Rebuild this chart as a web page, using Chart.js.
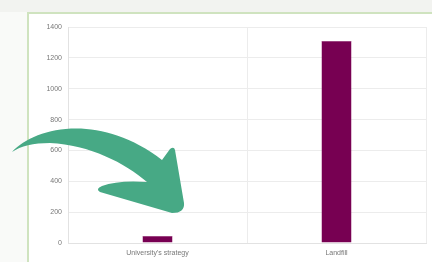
<!DOCTYPE html>
<html>
<head>
<meta charset="utf-8">
<script src="https://cdn.jsdelivr.net/npm/chart.js@4/dist/chart.umd.min.js"></script>
<style>
  html, body { margin: 0; padding: 0; }
  body { width: 432px; height: 262px; background: #f9faf8; position: relative; overflow: hidden; }
  #topStrip { position: absolute; left: 0; top: 0; width: 432px; height: 12px; background: #f2f3f0; }
  #frame { position: absolute; left: 27px; top: 12px; width: 420px; height: 260px;
           border-left: 2px solid #cfe3bf; border-top: 2px solid #cfe3bf; background: #fff; }
  #chart { position: absolute; left: 29px; top: 14px; }
  #arrow { position: absolute; left: 0; top: 0; pointer-events: none; }
</style>
</head>
<body>
<div id="topStrip"></div>
<div id="frame"></div>
<canvas id="chart" width="403" height="248"></canvas>
<svg id="arrow" width="432" height="262">
  <path d="M 12 152 C 35 127, 100 112, 162 160 L 170 149 Q 174 146, 175 150 L 184 203 Q 185 213, 172 213 L 100 192 Q 95 189, 102 186 Q 118 180, 147 182 C 125 163, 90 145, 50 143 Q 25 143, 12 152 Z" fill="#47a985"/>
</svg>
<script>
// ---------------- Data ----------------
const categories = ["University's strategy", "Landfill"];
const values = [45, 1310];
const yTicksMax = 1400;
const yTickStep = 200;

document.addEventListener("DOMContentLoaded", () => {
  const gridColor = "#ececec";
  new Chart(document.getElementById("chart"), {
    type: "bar",
    data: {
      labels: categories,
      datasets: [{ data: values, backgroundColor: "#770052", borderColor: "#8a1a66", borderWidth: 0.5 }]
    },
    options: {
      responsive: false,
      animation: false,
      devicePixelRatio: 1,
      layout: { padding: { top: 13, right: 6, left: 0, bottom: 0 } },
      plugins: { legend: { display: false }, tooltip: { enabled: false } },
      datasets: { bar: { categoryPercentage: 1, barPercentage: 0.168 } },
      scales: {
        x: {
          grid: { color: gridColor, offset: true, drawTicks: false },
          border: { color: "#e2e2e2" },
          ticks: { padding: 6, color: "#777", font: { family: "Liberation Sans", size: 7 } },
          afterFit: s => { s.height = 19; }
        },
        y: {
          min: 0,
          max: yTicksMax,
          grid: { color: gridColor, drawTicks: false },
          border: { color: "#e2e2e2" },
          ticks: {
            stepSize: yTickStep, padding: 6, color: "#777",
            font: { family: "Liberation Sans", size: 7 },
            callback: v => String(v)
          },
          afterFit: s => { s.width = 39; }
        }
      }
    }
  });
});
</script>
</body>
</html>
